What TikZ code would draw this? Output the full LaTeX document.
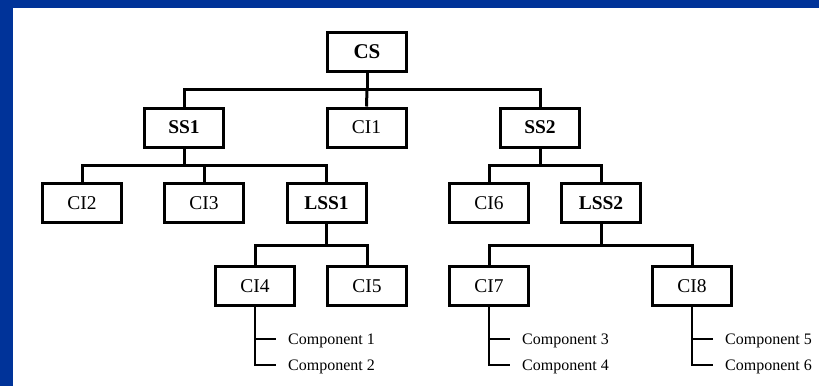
\documentclass[tikz,border=0pt]{standalone}
\usepackage{fontspec}
\setmainfont{Liberation Serif}
\definecolor{frameblue}{HTML}{003399}
\begin{document}
\begin{tikzpicture}[x=1pt,y=-1pt,
  box/.style={draw=black,line width=3pt,fill=white,minimum width=79pt,minimum height=39pt,inner sep=0pt,font=\fontsize{19.5}{20}\selectfont},
  bbox/.style={box,font=\fontsize{19.5}{20}\selectfont\bfseries},
  bus/.style={draw=black,line width=3pt},
  leg/.style={draw=black,line width=1.3pt},
  comp/.style={anchor=west,inner sep=0pt,text height=11pt,text depth=0pt,font=\fontsize{16}{17}\selectfont}]
\useasboundingbox (0,0) rectangle (819,386);
\fill[white] (0,0) rectangle (819,386);
\fill[frameblue] (0,0) rectangle (819,8);
\fill[frameblue] (0,0) rectangle (13,386);
% nodes
\node[bbox,font=\fontsize{21}{22}\selectfont\bfseries] (CS) at (367,51.5) {CS};
\node[bbox] (SS1) at (184,127.5) {SS1};
\node[box]  (CI1) at (366.5,127.5) {CI1};
\node[bbox] (SS2) at (540,127.5) {SS2};
\node[box]  (CI2) at (82,203) {CI2};
\node[box]  (CI3) at (204,203) {CI3};
\node[bbox] (LSS1) at (326.5,203) {LSS1};
\node[box]  (CI6) at (489,203) {CI6};
\node[bbox] (LSS2) at (601,203) {LSS2};
\node[box]  (CI4) at (255,286) {CI4};
\node[box]  (CI5) at (367,286) {CI5};
\node[box]  (CI7) at (489,286) {CI7};
\node[box]  (CI8) at (692,286) {CI8};
% bus coordinates
\coordinate (b1) at (367,89);
\coordinate (b2) at (184,165);
\coordinate (b3) at (540,165);
\coordinate (b4) at (326.5,245);
\coordinate (b5) at (601,245);
% connectors
\draw[bus] (CS.south) -- (b1);
\draw[bus] (SS1.north) |- (b1) -| (SS2.north);
\draw[bus] (b1) -- (CI1.north);
\draw[bus] (SS1.south) -- (b2);
\draw[bus] (CI2.north) |- (b2) -| (LSS1.north);
\draw[bus] (b2) -| (CI3.north);
\draw[bus] (SS2.south) -- (b3);
\draw[bus] (CI6.north) |- (b3) -| (LSS2.north);
\draw[bus] (LSS1.south) -- (b4);
\draw[bus] (CI4.north) |- (b4) -| (CI5.north);
\draw[bus] (LSS2.south) -- (b5);
\draw[bus] (CI7.north) |- (b5) -| (CI8.north);
% components
\node[comp] (k1) at (288,339) {Component 1};
\node[comp] (k2) at (288,365) {Component 2};
\node[comp] (k3) at (522,339) {Component 3};
\node[comp] (k4) at (522,365) {Component 4};
\node[comp] (k5) at (725,339) {Component 5};
\node[comp] (k6) at (725,365) {Component 6};
\draw[leg] (CI4.south) |- ([xshift=-12pt]k2.west);
\draw[leg] (CI4.south |- k1.west) -- ([xshift=-12pt]k1.west);
\draw[leg] (CI7.south) |- ([xshift=-12pt]k4.west);
\draw[leg] (CI7.south |- k3.west) -- ([xshift=-12pt]k3.west);
\draw[leg] (CI8.south) |- ([xshift=-12pt]k6.west);
\draw[leg] (CI8.south |- k5.west) -- ([xshift=-12pt]k5.west);
\end{tikzpicture}
\end{document}
